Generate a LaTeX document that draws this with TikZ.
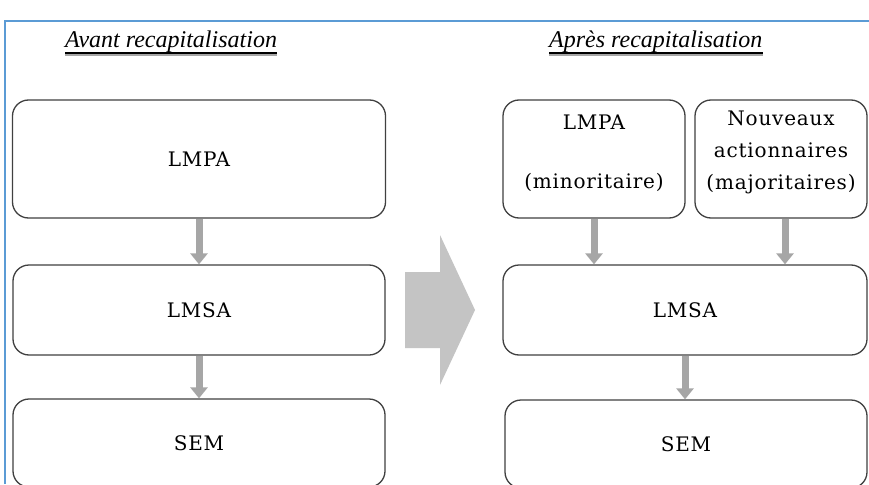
\documentclass[tikz,border=0pt]{standalone}
\usepackage{fontspec}
\setmainfont{DejaVu Serif}[LetterSpace=4]
\newfontfamily\titlefont{Liberation Serif}
\usetikzlibrary{arrows.meta}
\definecolor{frameblue}{HTML}{5B9BD5}
\definecolor{boxline}{HTML}{404040}
\definecolor{arrgray}{HTML}{A6A6A6}
\definecolor{biggray}{HTML}{C4C4C4}
\tikzset{
  box/.style={draw=boxline, line width=1.3pt, rounded corners=16pt, fill=white,
    inner sep=0pt, font=\fontsize{20}{22}\selectfont},
  lbl/.style={inner sep=0pt, align=center, font=\fontsize{20}{32}\selectfont},
  ttl/.style={inner sep=0pt, anchor=base west, font=\titlefont\itshape\fontsize{24}{26}\selectfont},
  uline/.style={draw=black, line width=1.2pt},
  ushadow/.style={draw=black!35, line width=1.2pt},
  flow/.style={draw=arrgray, line width=7pt, -{Triangle[width=17pt,length=11pt]}}
}
\begin{document}
\begin{tikzpicture}[x=1pt,y=-1pt]
\useasboundingbox (0,0) rectangle (869,484);
\fill[white] (0,0) rectangle (869,484);
% frame
\draw[frameblue, line width=2pt] (5,484) -- (5,21) -- (870,21);
% titles
\node[ttl] (t1) at (65,48) {Avant recapitalisation};
\node[ttl] (t2) at (549,48) {Après recapitalisation};
\draw[ushadow] ([yshift=-7pt]t1.base west) -- ([yshift=-7pt]t1.base east);
\draw[uline] ([yshift=-5pt]t1.base west) -- ([yshift=-5pt]t1.base east);
\draw[ushadow] ([yshift=-7pt]t2.base west) -- ([yshift=-7pt]t2.base east);
\draw[uline] ([yshift=-5pt]t2.base west) -- ([yshift=-5pt]t2.base east);
% left column
\node[box, minimum width=373pt, minimum height=118pt] (lmpa) at (199,159) {LMPA};
\node[box, minimum width=372pt, minimum height=90pt] (lmsa) at (199,310) {LMSA};
\node[box, minimum width=372pt, minimum height=88pt] (sem) at (199,443) {SEM};
% big arrow
\fill[biggray] (405,272) -- (440,272) -- (440,235) -- (475,310) -- (440,385) -- (440,348) -- (405,348) -- cycle;
% right column
\node[box, minimum width=182pt, minimum height=118pt] (lmpa2) at (594,159) {};
\node[lbl] (lmpa2t) at (594,153) {LMPA\\[27pt](minoritaire)};
\node[box, minimum width=172pt, minimum height=118pt] (nouv) at (781,159) {};
\node[lbl] (nouvt) at (781,152) {Nouveaux\\actionnaires\\(majoritaires)};
\node[box, minimum width=364pt, minimum height=90pt] (lmsa2) at (685,310) {LMSA};
\node[box, minimum width=362pt, minimum height=88pt] (sem2) at (686,444) {SEM};
% flows
\draw[flow] (lmpa.south) -- (lmpa.south |- lmsa.north);
\draw[flow] (lmsa.south) -- (lmsa.south |- sem.north);
\draw[flow] (lmpa2.south) -- (lmpa2.south |- lmsa2.north);
\draw[flow] ([xshift=4pt]nouv.south) -- ([xshift=4pt]nouv.south |- lmsa2.north);
\draw[flow] (lmsa2.south) -- (lmsa2.south |- sem2.north);
\end{tikzpicture}
\end{document}
